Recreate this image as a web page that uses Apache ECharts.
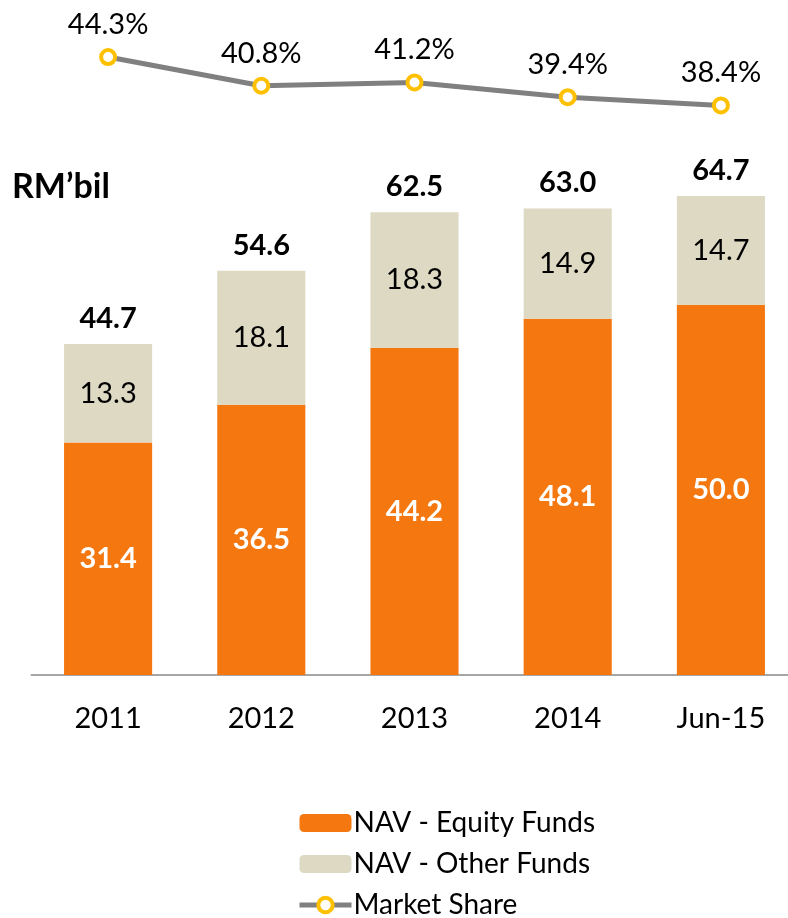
<!DOCTYPE html>
<html>
<head>
<meta charset="utf-8">
<style>
  html, body { margin: 0; padding: 0; background: #fff; }
  #chart { width: 788px; height: 918px; }
</style>
<script src="https://cdn.jsdelivr.net/npm/echarts@6/dist/echarts.min.js"></script>
</head>
<body>
<div id="chart"></div>
<script>
// Fund NAV (RM billion) split by type, with market share on top
const categories = ['2011', '2012', '2013', '2014', 'Jun-15'];
const equityFunds = [31.4, 36.5, 44.2, 48.1, 50.0];
const otherFunds = [13.3, 18.1, 18.3, 14.9, 14.7];
const totals = [44.7, 54.6, 62.5, 63.0, 64.7];
const marketShare = [44.3, 40.8, 41.2, 39.4, 38.4];

const FONT = 'Lato, "Open Sans", sans-serif';
const ORANGE = '#F4770F';
const BEIGE = '#DDD9C3';
const FS = 29;

const chart = echarts.init(document.getElementById('chart'), null, { renderer: 'canvas' });

chart.setOption({
  animation: false,
  textStyle: { fontFamily: FONT },
  grid: [
    { left: 31.5, width: 766, top: 82.6, bottom: 243, outerBoundsMode: 'none' },
    { left: 31.5, width: 766, top: 10.3, height: 164, outerBoundsMode: 'none' }
  ],
  xAxis: [
    {
      type: 'category', gridIndex: 0, data: categories,
      axisLine: { lineStyle: { color: '#A6A6A6', width: 2 } },
      axisTick: { show: false },
      axisLabel: { color: '#000', fontSize: FS, margin: 29, fontFamily: FONT }
    },
    { type: 'category', gridIndex: 1, data: categories, show: false }
  ],
  yAxis: [
    { type: 'value', gridIndex: 0, min: 0, max: 80, show: false, splitLine: { show: false } },
    { type: 'value', gridIndex: 1, min: 30, max: 50, show: false, splitLine: { show: false } }
  ],
  legend: {
    orient: 'vertical',
    left: 297, top: 809, height: 140,
    padding: 0,
    itemGap: 13,
    itemWidth: 52, itemHeight: 18,
    data: [
      { name: 'NAV - Equity Funds' },
      { name: 'NAV - Other Funds' },
      {
        name: 'Market Share',
        lineStyle: { width: 5, color: '#808080' },
        itemStyle: { color: '#fff', borderColor: '#FFC000', borderWidth: 4 }
      }
    ],
    textStyle: { color: '#000', fontSize: 28, fontFamily: FONT, padding: [0, 0, 0, -3] }
  },
  graphic: [
    {
      type: 'text', left: 12, top: 170,
      style: { text: 'RM\u2019bil', font: 'bold 34px ' + FONT, fill: '#000' }
    }
  ],
  series: [
    {
      name: 'NAV - Equity Funds', type: 'bar', stack: 'nav',
      xAxisIndex: 0, yAxisIndex: 0,
      barWidth: '57.5%',
      data: equityFunds,
      itemStyle: { color: ORANGE },
      label: {
        show: true, position: 'inside', color: '#fff', fontWeight: 'bold',
        fontSize: FS, fontFamily: FONT,
        formatter: p => p.value.toFixed(1)
      }
    },
    {
      name: 'NAV - Other Funds', type: 'bar', stack: 'nav',
      xAxisIndex: 0, yAxisIndex: 0,
      data: otherFunds,
      itemStyle: { color: BEIGE },
      label: {
        show: true, position: 'inside', color: '#000',
        fontSize: FS, fontFamily: FONT,
        formatter: p => p.value.toFixed(1)
      }
    },
    {
      name: 'Total', type: 'bar', stack: 'nav',
      xAxisIndex: 0, yAxisIndex: 0,
      data: totals.map(() => 0),
      itemStyle: { color: 'transparent' },
      label: {
        show: true, position: 'top', distance: 11, color: '#000', fontWeight: 'bold',
        fontSize: FS, fontFamily: FONT,
        formatter: p => totals[p.dataIndex].toFixed(1)
      }
    },
    {
      name: 'Market Share', type: 'line',
      xAxisIndex: 1, yAxisIndex: 1,
      data: marketShare,
      lineStyle: { color: '#808080', width: 5 },
      itemStyle: { color: '#fff', borderColor: '#FFC000', borderWidth: 4 },
      symbol: 'circle', symbolSize: 14,
      label: {
        show: true, position: 'top', distance: 9, color: '#000',
        fontSize: FS, fontFamily: FONT,
        formatter: p => p.value.toFixed(1) + '%'
      }
    }
  ]
});
</script>
</body>
</html>
